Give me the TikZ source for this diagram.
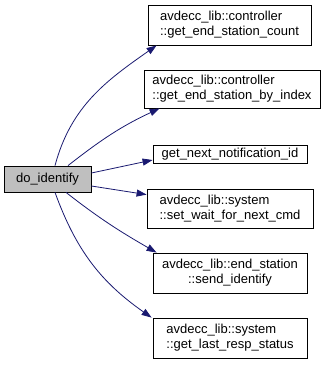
\documentclass[tikz,border=0pt]{standalone}
\usepackage{fontspec}
\setmainfont{Liberation Sans}
\usetikzlibrary{arrows.meta}
\definecolor{callblue}{HTML}{191970}

\begin{document}
\begin{tikzpicture}
    [x=1pt, y=1pt,
      fn/.style={draw=black, fill=white, line width=0.8pt, align=left,
        inner xsep=5pt, inner ysep=1pt, font=\fontsize{13}{15}\selectfont},
      caller/.style={fn, fill=gray!50},
      call/.style={draw=callblue, line width=0.8pt,
        -{Triangle[length=10pt, width=7pt, fill=callblue]}}]
    \useasboundingbox (0,0) rectangle (325,-365);
    % the calling function
    \node[caller, minimum width=87pt, minimum height=26pt] (doid) at (47.5,-179) {do\_identify};
    % the functions it calls
    \node[fn, minimum width=163pt, minimum height=40pt] (cnt) at (229.5,-25)
      {avdecc\_lib::controller\\::get\_end\_station\_count};
    \node[fn, minimum width=176pt, minimum height=38pt] (byidx) at (232,-89)
      {avdecc\_lib::controller\\::get\_end\_station\_by\_index};
    \node[fn, minimum width=154pt, minimum height=18pt] (notif) at (230,-154)
      {get\_next\_notification\_id};
    \node[fn, minimum width=166pt, minimum height=39pt] (wait) at (230,-208.5)
      {avdecc\_lib::system\\::set\_wait\_for\_next\_cmd};
    \node[fn, align=center, minimum width=154pt, minimum height=40pt] (ident) at (230,-273)
      {avdecc\_lib::end\_station\\::send\_identify};
    \node[fn, minimum width=154pt, minimum height=40pt] (resp) at (230,-338)
      {avdecc\_lib::system\\::get\_last\_resp\_status};
    % call edges
    \draw[call] ([xshift=7.5pt]doid.north) to[out=75, in=215] ([xshift=9pt]cnt.south west);
    \draw[call] ([xshift=20.5pt]doid.north) to[out=38, in=205] ([xshift=16pt]byidx.south west);
    \draw[call] ([yshift=6pt]doid.east) -- ([yshift=-6pt]notif.west);
    \draw[call] ([yshift=-7pt]doid.east) -- ([yshift=-6pt]wait.north west);
    \draw[call] ([xshift=18.5pt]doid.south) to[out=-38, in=150] ([xshift=4pt]ident.north west);
    \draw[call] ([xshift=7.5pt]doid.south) to[out=-70, in=145] ([xshift=-1pt]resp.north west);
\end{tikzpicture}
\end{document}
